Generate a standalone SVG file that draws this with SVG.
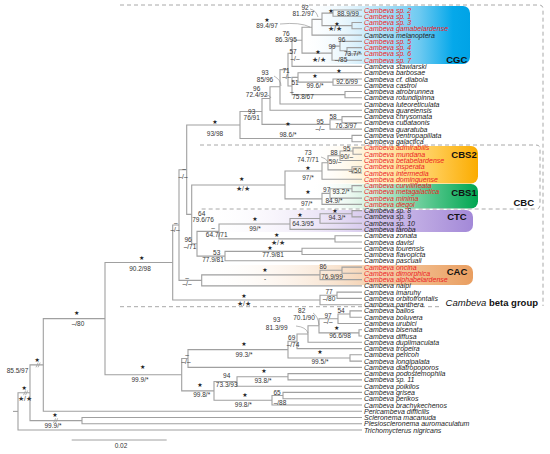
<svg xmlns="http://www.w3.org/2000/svg" width="550" height="454" viewBox="0 0 550 454">
<style>
.tip{font-family:"Liberation Sans",Arial,sans-serif;font-size:7px;font-style:italic;fill:#222}
.red{fill:#ec1c24}
.s{font-family:"Liberation Sans",Arial,sans-serif;font-size:6.5px;fill:#333;text-anchor:middle}
.st{font-family:"DejaVu Sans",sans-serif;font-size:6px;fill:#222;text-anchor:middle}
.bl{font-family:"Liberation Sans",Arial,sans-serif;font-size:9.5px;font-weight:bold;fill:#111;text-anchor:end}
.dash{fill:none;stroke:#a8a8a8;stroke-width:1;stroke-dasharray:4 3}
.cl{fill:none;stroke:#888;stroke-width:0.6}
</style>
<defs>
<linearGradient id="gCGC" x1="0" x2="1" y1="0" y2="0"><stop offset="0" stop-color="#ffffff" stop-opacity="0"/><stop offset="0.35" stop-color="#d6effb"/><stop offset="0.7" stop-color="#6fcaf1"/><stop offset="0.9" stop-color="#05a8ea"/><stop offset="1" stop-color="#00a3e6"/></linearGradient>
<linearGradient id="gCBS2" x1="0" x2="1" y1="0" y2="0"><stop offset="0" stop-color="#ffffff" stop-opacity="0"/><stop offset="0.35" stop-color="#fff0cf"/><stop offset="0.75" stop-color="#ffcb52"/><stop offset="1" stop-color="#fbac00"/></linearGradient>
<linearGradient id="gCBS1" x1="0" x2="1" y1="0" y2="0"><stop offset="0" stop-color="#ffffff" stop-opacity="0"/><stop offset="0.35" stop-color="#d4f0df"/><stop offset="0.75" stop-color="#4cc386"/><stop offset="1" stop-color="#00a651"/></linearGradient>
<linearGradient id="gCTC" x1="0" x2="1" y1="0" y2="0"><stop offset="0" stop-color="#ffffff" stop-opacity="0"/><stop offset="0.5" stop-color="#e6ddf4"/><stop offset="0.85" stop-color="#b8a2e0"/><stop offset="1" stop-color="#a389d8"/></linearGradient>
<linearGradient id="gCAC" x1="0" x2="1" y1="0" y2="0"><stop offset="0" stop-color="#ffffff" stop-opacity="0"/><stop offset="0.5" stop-color="#f8e3cf"/><stop offset="0.85" stop-color="#efb37f"/><stop offset="1" stop-color="#e99e60"/></linearGradient>
</defs>
<rect width="550" height="454" fill="#ffffff"/>

<g id="clade-boxes">
<rect x="300" y="6" width="170" height="58" rx="7" fill="url(#gCGC)"/>
<rect x="310" y="146" width="168" height="37.5" rx="7" fill="url(#gCBS2)"/>
<rect x="310" y="184" width="168" height="24.5" rx="7" fill="url(#gCBS1)"/>
<rect x="200" y="210" width="273" height="22" rx="7" fill="url(#gCTC)"/>
<rect x="200" y="265" width="273" height="20" rx="7" fill="url(#gCAC)"/>
<text class="bl" x="467.3" y="62.7">CGC</text>
<text class="bl" x="476.7" y="157.5">CBS2</text>
<text class="bl" x="476.7" y="196">CBS1</text>
<text class="bl" x="466.7" y="219.5">CTC</text>
<text class="bl" x="467.3" y="275">CAC</text>
</g>

<g id="group-frames">
<path class="dash" d="M120 5 H539 Q543 5 543 9 V306"/>
<path class="dash" d="M120 306.7 H440"/>
<path class="dash" d="M200 145 H536 Q540 145 540 149 V205 Q540 209 536 209 H200"/>
<text class="bl" x="534" y="206">CBC</text>
<text x="538" y="305.5" text-anchor="end" font-family="Liberation Sans, Arial, sans-serif" font-size="9.5" fill="#111"><tspan font-style="italic">Cambeva</tspan> <tspan font-weight="bold">beta group</tspan></text>
</g>

<g id="connectors" fill="none" stroke="#a0a0a0" stroke-width="1.1">
<path d="M362 10 H333 V16.3 H362"/>
<path d="M362 22.5 H352 V28.8 H362"/>
<path d="M333 13.15 H322 V25.65 H352"/>
<path d="M322 19.4 H312 V35.1 H362"/>
<path d="M362 47.6 H347 V53.9 H362"/>
<path d="M362 41.4 H340 V50.75 H347"/>
<path d="M340 46.1 H332 V60.2 H362"/>
<path d="M312 27.25 H302 V53.1 H332"/>
<path d="M302 40.2 H292 V66.4 H362"/>
<path d="M362 79 H333 V85.2 H362"/>
<path d="M362 72.7 H298 V82.1 H333"/>
<path d="M362 91.5 H345 V97.8 H362"/>
<path d="M298 77.4 H292 V94.65 H345"/>
<path d="M292 53.3 H288 V86 H292"/>
<path d="M288 69.65 H280 V104 H362"/>
<path d="M280 86.8 H270 V110.3 H362"/>
<path d="M362 116.6 H342 V122.9 H362"/>
<path d="M342 119.75 H330 V129.1 H362"/>
<path d="M270 98.55 H262 V124.4 H330"/>
<path d="M362 135.4 H352 V141.7 H362"/>
<path d="M262 111.5 H240 V138.55 H352"/>
<path d="M362 147.9 H353 V154.2 H362"/>
<path d="M353 151.05 H340 V160.5 H362"/>
<path d="M362 166.7 H352 V173 H362"/>
<path d="M340 155.8 H328 V169.85 H352"/>
<path d="M328 162.8 H322 V179.3 H362"/>
<path d="M362 185.6 H352 V191.8 H362"/>
<path d="M352 188.7 H330 V198.1 H362"/>
<path d="M330 193.4 H322 V204.4 H362"/>
<path d="M322 171.05 H285 V198.9 H322"/>
<path d="M362 210.6 H352 V216.9 H362"/>
<path d="M352 213.75 H320 V223.2 H362"/>
<path d="M320 218.5 H290 V229.4 H362"/>
<path d="M362 235.7 H335 V242 H362"/>
<path d="M290 223.95 H219 V238.85 H335"/>
<path d="M362 248.2 H302 V254.5 H362"/>
<path d="M302 251.35 H225 V260.8 H362"/>
<path d="M219 231.4 H197 V256.1 H225"/>
<path d="M285 185 H191.7 V243.75 H197"/>
<path d="M240 125 H186.7 V214.4 H191.7"/>
<path d="M362 267.1 H342 V273.3 H362"/>
<path d="M342 270.2 H320 V279.6 H362"/>
<path d="M320 274.9 H201.7 V285.9 H362"/>
<path d="M186.7 169.7 H179 V280.4 H201.7"/>
<path d="M362 292.1 H337 V298.4 H362"/>
<path d="M337 295.25 H320 V304.7 H362"/>
<path d="M179 225.05 H172.7 V300 H320"/>
<path d="M362 310.9 H350 V317.2 H362"/>
<path d="M350 314.05 H338 V323.5 H362"/>
<path d="M362 329.7 H359 V336 H362"/>
<path d="M338 318.8 H319 V332.85 H359"/>
<path d="M319 325.8 H308 V342.3 H362"/>
<path d="M308 334.05 H297 V348.6 H362"/>
<path d="M362 354.8 H350 V361.1 H362"/>
<path d="M297 341.3 H288 V357.95 H350"/>
<path d="M288 349.6 H188 V367.4 H362"/>
<path d="M362 373.6 H288 V379.9 H362"/>
<path d="M288 376.75 H237 V386.2 H362"/>
<path d="M362 392.4 H283 V398.7 H362"/>
<path d="M283 395.55 H272 V405 H362"/>
<path d="M237 381.5 H214 V400.3 H272"/>
<path d="M188 358.5 H181.7 V390.9 H214"/>
<path d="M172.7 262.5 H105 V374.7 H181.7"/>
<path d="M105 318.6 H43.3 V411.2 H362"/>
<path d="M362 417.5 H82 V423.8 H362"/>
<path d="M43.3 364.9 H30 V420.65 H82"/>
<path d="M30 392.8 H18 V430 H362"/>
<path d="M13 411.4 H18"/>
<path stroke-width="0.8" d="M36 367.3 L38.2 362.6 M38 367.3 L40.2 362.6 M23.5 395.2 L25.7 390.5 M25.5 395.2 L27.7 390.5 M53.5 423 L55.7 418.3 M55.5 423 L57.7 418.3"/>
<path stroke-width="1" d="M71.7 440 H166.7"/>
</g>

<g id="callouts">
<path class="cl" d="M310 9 Q316 10 318 17"/>
<path class="cl" d="M280 24 Q300 22 310 27"/>
<path class="cl" d="M274 76 Q281 80 281 86"/>
<path class="cl" d="M266 95 Q270 95 271 98"/>
<path class="cl" d="M321 157 Q326 158 328 162"/>
<path class="cl" d="M296 326 Q306 327 308 333"/>
<path class="cl" d="M313 313 Q318 316 319 325"/>
</g>

<g id="supports">
<text class="st" x="331" y="13">★</text><text class="s" x="348" y="15.5">88.9/99</text>
<text class="st" x="337" y="25.5">★</text><text class="s" x="335" y="31.3">★/★</text>
<text class="s" x="305" y="9.6">92</text><text class="s" x="303.3" y="16.3">81.2/97</text>
<text class="st" x="267" y="22.2">★</text><text class="s" x="267" y="28.3">89.4/97</text>
<text class="s" x="341.7" y="42.3">96</text><text class="s" x="332" y="48.5">99</text>
<text class="s" x="352.5" y="55.8">73.7/*</text><text class="s" x="341" y="62.3">–/85</text>
<text class="s" x="286" y="35.6">76</text><text class="s" x="286" y="42.3">86.3/95</text>
<text class="s" x="293" y="54">57</text><text class="s" x="295" y="61.3">–/–</text>
<text class="st" x="318" y="54">★</text><text class="s" x="319" y="61.6">★/★</text>
<text class="st" x="339" y="73">★</text>
<text class="s" x="286" y="73">71</text><text class="s" x="286.7" y="79">–/–</text>
<text class="st" x="315" y="78.3">★</text><text class="s" x="315" y="88.3">99.6/*</text>
<text class="s" x="295" y="85">51</text><text class="s" x="347" y="84.3">92.6/99</text>
<text class="s" x="291.7" y="94">–</text><text class="s" x="303" y="99">75.8/67</text>
<text class="s" x="265" y="75">93</text><text class="s" x="265" y="82.3">85/96</text>
<text class="s" x="256.7" y="90.6">96</text><text class="s" x="256.7" y="97.3">72.4/92</text>
<text class="s" x="251.7" y="114">93</text><text class="s" x="251.7" y="119.6">76/91</text>
<text class="s" x="333" y="119">58</text>
<text class="st" x="288" y="126.3">★</text><text class="s" x="288" y="137.3">98.6/*</text>
<text class="s" x="320" y="124">95</text><text class="s" x="320" y="130.6">–/–</text>
<text class="s" x="346" y="128.3">76.3/97</text>
<text class="st" x="215" y="124">★</text><text class="s" x="215" y="136.3">93/98</text>
<text class="s" x="308" y="155">73</text><text class="s" x="308" y="162.3">74.7/71</text>
<text class="s" x="334" y="154.8">88</text><text class="s" x="335" y="164">59/–</text>
<text class="s" x="346.7" y="150.6">95</text><text class="s" x="346.7" y="159">90/–</text>
<text class="s" x="355" y="173">–/50</text>
<text class="st" x="308" y="170">★</text><text class="s" x="308" y="179.6">97/*</text>
<text class="st" x="241.7" y="180.6">★</text><text class="s" x="243" y="191.3">★/★</text>
<text class="s" x="326.7" y="192.3">97</text><text class="s" x="341" y="193.5" font-size="4.5">93.2/*</text><text class="s" x="334" y="202.8">84.9/*</text>
<text class="st" x="308" y="194">★</text><text class="s" x="306.7" y="205.6">97/*</text>
<text class="s" x="184" y="171.3">–</text><text class="s" x="183" y="179">–/–</text>
<text class="s" x="201.7" y="215.6">64</text><text class="s" x="203" y="222.3">79.6/76</text>
<text class="s" x="213" y="229.6">–</text><text class="s" x="216.7" y="237.3">64.7/71</text>
<text class="s" x="188" y="242.3">96</text><text class="s" x="190" y="249">–/71</text>
<text class="st" x="255" y="220.6">★</text><text class="s" x="255" y="230.6">99/*</text>
<text class="st" x="300" y="217.3">★</text><text class="s" x="303" y="225.6">64.3/95</text>
<text class="st" x="335" y="213.3">★</text><text class="s" x="337" y="220.3">94.3/*</text>
<text class="st" x="276.7" y="237">★</text><text class="s" x="278" y="244.5">★/★</text>
<text class="s" x="216.7" y="255">53</text><text class="s" x="213" y="262.3">77.9/81</text>
<text class="st" x="270" y="249.6">★</text><text class="s" x="273" y="257.3">77.9/81</text>
<text class="s" x="175.7" y="225">–</text><text class="s" x="175" y="231.6">–/–</text>
<text class="st" x="265" y="272.3">★</text><text class="s" x="265" y="281.3">-</text>
<text class="s" x="323" y="269.3">86</text><text class="s" x="332" y="279">76.9/99</text>
<text class="s" x="187" y="280">–</text><text class="s" x="187" y="285.6">–/–</text>
<text class="st" x="244" y="298">★</text><text class="s" x="244" y="306">★/★</text>
<text class="s" x="329" y="294.3">77</text><text class="s" x="329" y="301.3">–/80</text>
<text class="s" x="276.7" y="322.3">93</text><text class="s" x="276.7" y="329.6">81.3/99</text>
<text class="s" x="301.7" y="313.3">82</text><text class="s" x="304" y="319.6">70.1/90</text>
<text class="s" x="328" y="318.3">97</text><text class="s" x="328" y="324">–/–</text>
<text class="s" x="341" y="313">54</text>
<text class="st" x="336.7" y="329.6">★</text><text class="s" x="340" y="338">96.6/98</text>
<text class="s" x="291.7" y="339.6">69</text><text class="s" x="293" y="347.3">–/74</text>
<text class="st" x="244" y="346.3">★</text><text class="s" x="244" y="357.3">99.3/*</text>
<text class="st" x="320" y="354.3">★</text><text class="s" x="320" y="364">99.5/*</text>
<text class="s" x="187" y="357.3">–</text><text class="s" x="186" y="364">–/–</text>
<text class="s" x="226.7" y="378.3">94</text><text class="s" x="226.7" y="387.3">73.3/93</text>
<text class="st" x="264" y="373.3">★</text><text class="s" x="263" y="383">93.8/*</text>
<text class="st" x="245" y="397.3">★</text><text class="s" x="243.3" y="406.6">99.8/*</text>
<text class="s" x="277" y="394.6">65</text><text class="s" x="280" y="404.6">–/88</text>
<text class="st" x="200" y="386.6">★</text><text class="s" x="201.7" y="396.6">99.8/*</text>
<text class="st" x="142.7" y="369">★</text><text class="s" x="140" y="381.6">99.9/*</text>
<text class="st" x="141.7" y="259.6">★</text><text class="s" x="140" y="271.3">90.2/98</text>
<text class="st" x="76.7" y="315">★</text><text class="s" x="78" y="326.3">–/80</text>
<text class="st" x="37.3" y="361.6">★</text><text class="s" x="17.5" y="373.3">85.5/97</text>
<text class="st" x="24.3" y="390">★</text><text class="s" x="25" y="400.6">★/★</text>
<text class="st" x="55" y="417.3">★</text><text class="s" x="53" y="428.3">99.9/*</text>
<text class="s" x="121" y="448" font-size="7">0.02</text>
</g>

<g id="tips">
<g id="t0"><text class="tip red" x="364" y="12.5">Cambeva sp. 2</text></g>
<g id="t1"><text class="tip red" x="364" y="18.8">Cambeva sp. 1</text></g>
<g id="t2"><text class="tip red" x="364" y="25">Cambeva sp. 3</text></g>
<g id="t3"><text class="tip red" x="364" y="31.3">Cambeva gamabelardense</text></g>
<g id="t4"><text class="tip" x="364" y="37.6">Cambeva melanoptera</text></g>
<g id="t5"><text class="tip red" x="364" y="43.9">Cambeva sp. 5</text></g>
<g id="t6"><text class="tip red" x="364" y="50.1">Cambeva sp. 4</text></g>
<g id="t7"><text class="tip red" x="364" y="56.4">Cambeva sp. 6</text></g>
<g id="t8"><text class="tip red" x="364" y="62.7">Cambeva sp. 7</text></g>
<g id="t9"><text class="tip" x="364" y="68.9">Cambeva stawiarski</text></g>
<g id="t10"><text class="tip" x="364" y="75.2">Cambeva barbosae</text></g>
<g id="t11"><text class="tip" x="364" y="81.5">Cambeva cf. diabola</text></g>
<g id="t12"><text class="tip" x="364" y="87.7">Cambeva castroi</text></g>
<g id="t13"><text class="tip" x="364" y="94">Cambeva atrobrunnea</text></g>
<g id="t14"><text class="tip" x="364" y="100.3">Cambeva rotundipinna</text></g>
<g id="t15"><text class="tip" x="364" y="106.5">Cambeva luteoreticulata</text></g>
<g id="t16"><text class="tip" x="364" y="112.8">Cambeva guareiensis</text></g>
<g id="t17"><text class="tip" x="364" y="119.1">Cambeva chrysomata</text></g>
<g id="t18"><text class="tip" x="364" y="125.4">Cambeva cubataonis</text></g>
<g id="t19"><text class="tip" x="364" y="131.6">Cambeva guaratuba</text></g>
<g id="t20"><text class="tip" x="364" y="137.9">Cambeva ventropapillata</text></g>
<g id="t21"><text class="tip" x="364" y="144.2">Cambeva galactica</text></g>
<g id="t22"><text class="tip red" x="364" y="150.4">Cambeva admirabilis</text></g>
<g id="t23"><text class="tip red" x="364" y="156.7">Cambeva mundana</text></g>
<g id="t24"><text class="tip red" x="364" y="163">Cambeva betabelardense</text></g>
<g id="t25"><text class="tip red" x="364" y="169.2">Cambeva insperata</text></g>
<g id="t26"><text class="tip red" x="364" y="175.5">Cambeva intermedia</text></g>
<g id="t27"><text class="tip red" x="364" y="181.8">Cambeva dominguense</text></g>
<g id="t28"><text class="tip red" x="364" y="188.1">Cambeva curvilineata</text></g>
<g id="t29"><text class="tip red" x="364" y="194.3">Cambeva metagalactica</text></g>
<g id="t30"><text class="tip red" x="364" y="200.6">Cambeva minima</text></g>
<g id="t31"><text class="tip red" x="364" y="206.9">Cambeva diegoi</text></g>
<g id="t32"><text class="tip" x="364" y="213.1">Cambeva sp. 8</text></g>
<g id="t33"><text class="tip" x="364" y="219.4">Cambeva sp. 9</text></g>
<g id="t34"><text class="tip" x="364" y="225.7">Cambeva sp. 10</text></g>
<g id="t35"><text class="tip" x="364" y="231.9">Cambeva taroba</text></g>
<g id="t36"><text class="tip" x="364" y="238.2">Cambeva zonata</text></g>
<g id="t37"><text class="tip" x="364" y="244.5">Cambeva davisi</text></g>
<g id="t38"><text class="tip" x="364" y="250.7">Cambeva tourensis</text></g>
<g id="t39"><text class="tip" x="364" y="257">Cambeva flavopicta</text></g>
<g id="t40"><text class="tip" x="364" y="263.3">Cambeva pascuali</text></g>
<g id="t41"><text class="tip red" x="364" y="269.6">Cambeva oncina</text></g>
<g id="t42"><text class="tip red" x="364" y="275.8">Cambeva dimorphica</text></g>
<g id="t43"><text class="tip red" x="364" y="282.1">Cambeva alphabelardense</text></g>
<g id="t44"><text class="tip" x="364" y="288.4">Cambeva naipi</text></g>
<g id="t45"><text class="tip" x="364" y="294.6">Cambeva imaruhy</text></g>
<g id="t46"><text class="tip" x="364" y="300.9">Cambeva orbitofrontalis</text></g>
<g id="t47"><text class="tip" x="364" y="307.2">Cambeva panthera</text></g>
<g id="t48"><text class="tip" x="364" y="313.4">Cambeva balios</text></g>
<g id="t49"><text class="tip" x="364" y="319.7">Cambeva boluvera</text></g>
<g id="t50"><text class="tip" x="364" y="326">Cambeva urubici</text></g>
<g id="t51"><text class="tip" x="364" y="332.2">Cambeva bisenata</text></g>
<g id="t52"><text class="tip" x="364" y="338.5">Cambeva diffusa</text></g>
<g id="t53"><text class="tip" x="364" y="344.8">Cambeva duplimaculata</text></g>
<g id="t54"><text class="tip" x="364" y="351.1">Cambeva tropeira</text></g>
<g id="t55"><text class="tip" x="364" y="357.3">Cambeva pericoh</text></g>
<g id="t56"><text class="tip" x="364" y="363.6">Cambeva longipalata</text></g>
<g id="t57"><text class="tip" x="364" y="369.9">Cambeva diatropoporos</text></g>
<g id="t58"><text class="tip" x="364" y="376.1">Cambeva podostemophila</text></g>
<g id="t59"><text class="tip" x="364" y="382.4">Cambeva sp. 11</text></g>
<g id="t60"><text class="tip" x="364" y="388.7">Cambeva poikilos</text></g>
<g id="t61"><text class="tip" x="364" y="394.9">Cambeva grisea</text></g>
<g id="t62"><text class="tip" x="364" y="401.2">Cambeva perikos</text></g>
<g id="t63"><text class="tip" x="364" y="407.5">Cambeva brachykechenos</text></g>
<g id="t64"><text class="tip" x="364" y="413.7">Pericambeva difficilis</text></g>
<g id="t65"><text class="tip" x="364" y="420">Scleronema macanuda</text></g>
<g id="t66"><text class="tip" x="364" y="426.3">Plesioscleronema auromaculatum</text></g>
<g id="t67"><text class="tip" x="364" y="432.5">Trichomycterus nigricans</text></g>
</g>
</svg>
